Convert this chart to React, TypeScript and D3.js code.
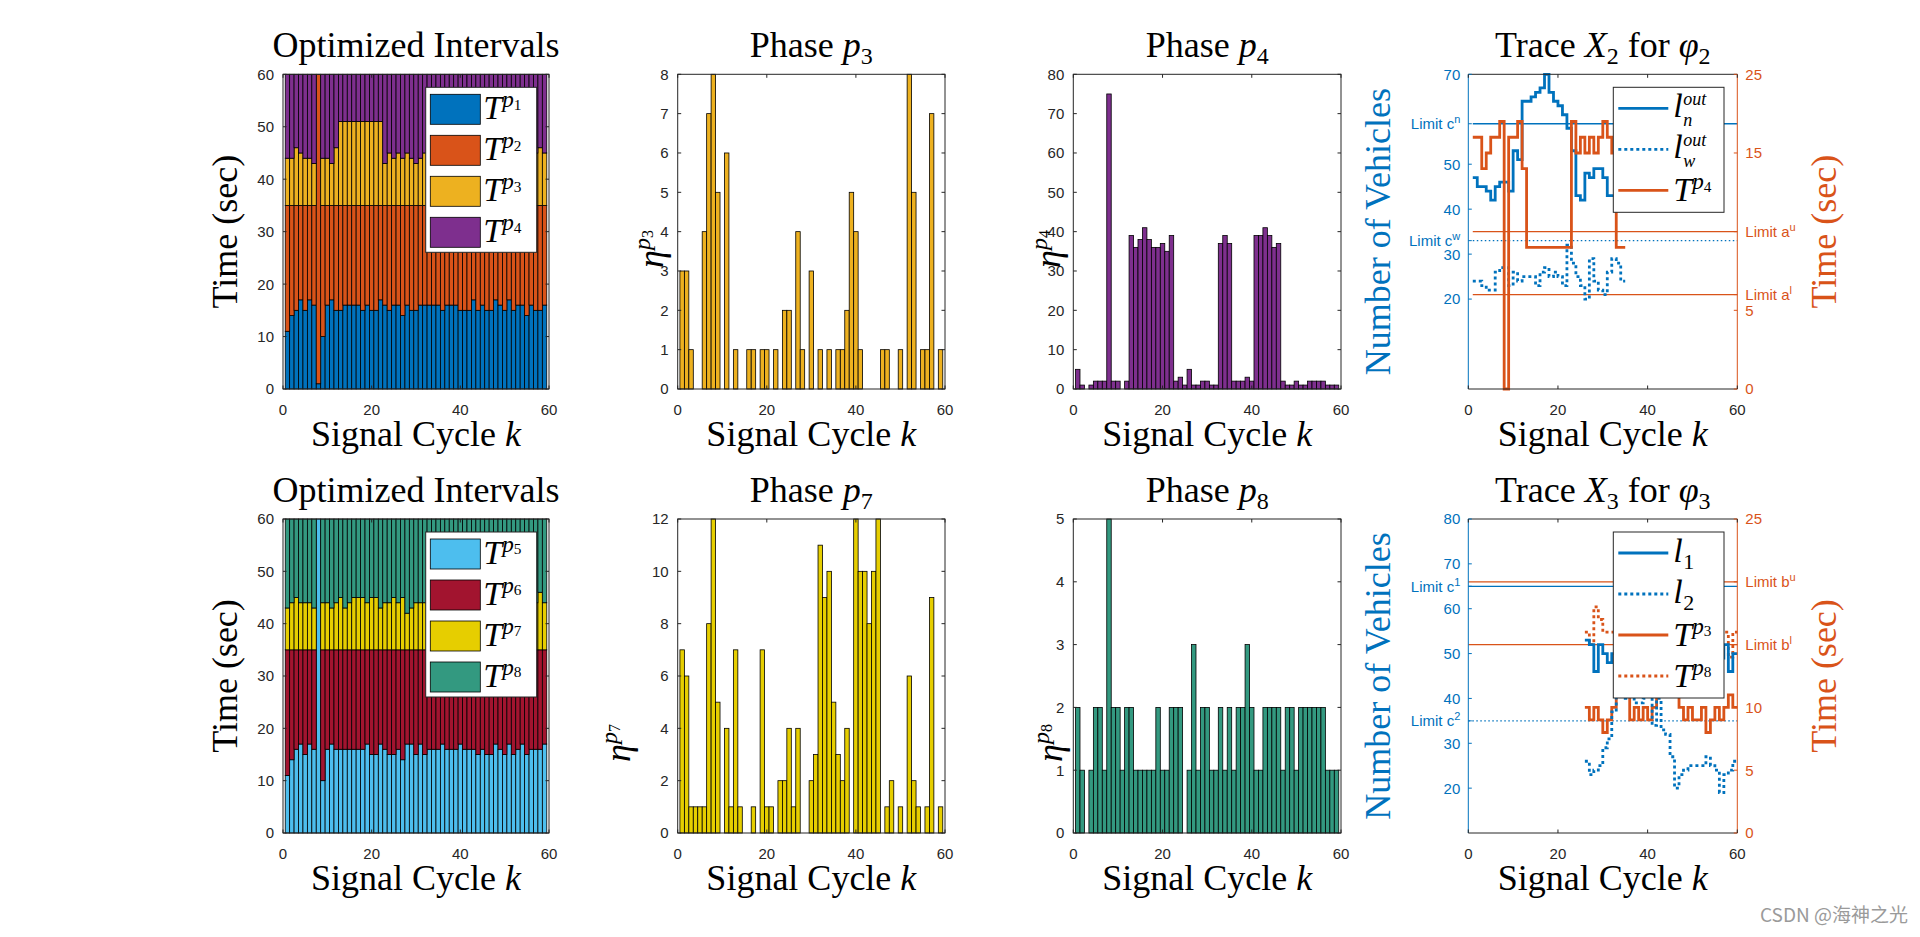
import React from 'react';
import * as d3 from 'd3';

// ---------------- DATA ----------------
const CYCLES = d3.range(1, 60); // signal cycles k = 1..59
const X_TICKS = [0, 20, 40, 60];

// Optimized intervals (sec), phases p1..p4
const T_P1 = [11,14,15,17,15,17,16,1,10,16, 17,15,15,16,16,16,16,15,16,15, 15,17,16,15,16,16,14,16,15,15, 16,16,16,16,16,15,16,16,16,15, 15,15,17,15,16,15,15,17,16,15, 17,15,16,16,14,16,15,15,16];
const T_P2 = [24,21,20,18,20,18,19,59,25,19, 18,20,20,19,19,19,19,20,19,20, 20,18,19,20,19,19,21,19,20,20, 19,19,19,19,19,20,19,19,19,20, 20,20,18,20,19,20,20,18,19,20, 18,20,19,19,21,19,20,20,19];
const T_P3 = [9,9,11,10,9,9,8,0,9,9, 8,11,16,16,16,16,16,16,16,16, 16,16,8,10,9,10,9,10,9,8, 9,10,16,16,16,9,10,9,10,9, 10,16,16,16,16,16,10,9,10,9, 9,10,8,9,10,9,10,11,10];
const T_P4 = [16,16,14,15,16,16,17,0,16,16, 17,14,9,9,9,9,9,9,9,9, 9,9,17,15,16,15,16,15,16,17, 16,15,9,9,9,16,15,16,15,16, 15,9,9,9,9,9,15,16,15,16, 16,15,17,16,15,16,15,14,15];

// Optimized intervals (sec), phases p5..p8
const T_P5 = [11,14,16,17,15,17,16,60,10,16, 17,16,16,16,16,16,16,16,17,15, 15,17,16,15,15,16,14,17,17,15, 17,15,16,16,16,17,16,16,16,17, 16,16,16,15,16,15,15,17,16,15, 17,15,16,17,15,16,16,16,17];
const T_P6 = [24,21,19,18,20,18,19,0,25,19, 18,19,19,19,19,19,19,19,18,20, 20,18,19,20,20,19,21,18,18,20, 18,20,19,19,19,18,19,19,19,18, 19,19,19,20,19,20,20,18,19,20, 18,20,19,18,20,19,19,19,18];
const T_P7 = [8,9,10,9,9,9,8,0,9,9, 8,9,10,8,9,10,10,10,9,10, 10,8,9,9,10,9,10,7,8,9, 9,9,10,9,9,10,8,9,10,9, 9,10,9,8,9,10,9,10,9,9, 8,10,9,10,9,9,9,11,9];
const T_P8 = [17,16,15,16,16,16,17,0,16,16, 17,16,15,17,16,15,15,15,16,15, 15,17,16,16,15,16,15,18,17,16, 16,16,15,16,16,15,17,16,15,16, 16,15,16,17,16,15,16,15,16,16, 17,15,16,15,16,16,16,14,16];

// Vehicle counts per phase
const N_P3 = [3,3,1,0,0,4,7,8,5,0, 6,0,1,0,0,1,1,0,1,1, 0,1,0,2,2,0,4,1,0,3, 0,1,0,1,0,1,1,2,5,4, 1,0,0,0,0,1,1,0,0,1, 0,8,5,0,1,1,7,0,1];
const N_P4 = [5,1,0,1,2,2,2,75,2,2, 0,2,39,36,38,41,38,36,36,37, 35,39,2,3,1,5,1,1,2,2, 1,1,37,39,37,2,2,2,3,2, 39,39,41,39,36,37,2,1,1,2, 1,1,2,2,2,2,1,1,1];
const N_P7 = [7,6,1,1,1,1,8,12,5,0, 4,1,7,1,0,0,1,0,7,1, 1,0,2,2,4,1,4,0,0,2, 3,11,9,10,5,3,2,4,0,12, 10,10,8,10,12,0,1,2,0,1, 0,6,2,1,0,1,9,0,1];
const N_P8 = [2,1,0,1,2,2,1,5,2,2, 1,2,2,1,1,1,1,1,2,1, 1,2,2,2,0,1,3,1,2,2, 1,1,2,1,2,1,2,2,3,2, 1,1,2,2,2,2,1,2,2,1, 2,2,2,2,2,2,1,1,1];

// Trace X2 (k = 1..34)
const X2_START = 1;
const LN_OUT = [47,45,45,44,42,45,46,46,44,53, 51,64,64,65,66,67,70,66,64,63, 61,58,53,43,42,48,47,49,49,47, 43,43,45,44];
const LW_OUT = [24,24,23,22,22,26,27,27,23,26, 24,25,25,25,23,26,27,25,26,25, 23,32,28,25,23,20,29,24,22,21, 26,29,28,24];
const X2_LEFT_TICKS = [20, 30, 33, 40, 50, 59, 70];
const X2_LEFT_LABELS = ['20', '30', 'Limit c^w', '40', '50', 'Limit c^n', '70'];
const X2_RIGHT_TICKS = [0, 5, 6, 10, 15, 20];
const X2_RIGHT_LABELS = ['0', '5', 'Limit a^l', 'Limit a^u', '15', '25'];

// Trace X3 (k = 26..59)
const X3_START = 26;
const L_1 = [53,52,46,52,50,48,50,51,53,52, 50,49,51,53,52,50,48,50,52,54, 53,51,49,50,52,51,49,50,52,51, 49,52,46,50];
const L_2 = [26,23,24,25,29,31,37,43,45,40, 41,39,39,40,41,34,40,33,32,27, 20,23,24,25,25,25,25,27,25,24, 19,23,24,26];
const X3_LEFT_TICKS = [20, 30, 35, 40, 50, 60, 65, 70, 80];
const X3_LEFT_LABELS = ['20', '30', 'Limit c^2', '40', '50', '60', 'Limit c^1', '70', '80'];
const X3_RIGHT_TICKS = [0, 5, 10, 15, 20, 25];
const X3_RIGHT_LABELS = ['0', '5', '10', 'Limit b^l', 'Limit b^u', '25'];

// ---------------- STYLE / LAYOUT ----------------
const SERIF = '"Liberation Serif", "Times New Roman", serif';
const SANS = '"Liberation Sans", Arial, sans-serif';
const INK = '#262626';
const BLUE = '#0072BD';
const ORANGE = '#D95319';
const C_P1 = '#0072BD', C_P2 = '#D95319', C_P3 = '#EDB120', C_P4 = '#7E2F8E';
const C_P5 = '#4DBEEE', C_P6 = '#A2142F', C_P7 = '#E6CE00', C_P8 = '#339980';

const COL_X = [283, 677.7, 1073.3, 1468.3];
const COL_W = [266, 267.3, 267.7, 269];
const ROW_Y = [74.3, 519];
const ROW_H = [314.7, 314];
const TICK = 3.5;
const BIG = 36;
const TICKFONT = 15;

function geom(col: number, row: number) {
  const x0 = COL_X[col], w = COL_W[col], y0 = ROW_Y[row], h = ROW_H[row];
  const xs = d3.scaleLinear().domain([0, 60]).range([x0, x0 + w]);
  return { x0, w, y0, h, xs };
}

function XAxisPart({ xs, y0, h }: any) {
  return (
    <g>
      {X_TICKS.map((t) => (
        <g key={t}>
          <line x1={xs(t)} x2={xs(t)} y1={y0 + h} y2={y0 + h - TICK} stroke={INK} />
          <line x1={xs(t)} x2={xs(t)} y1={y0} y2={y0 + TICK} stroke={INK} />
          <text x={xs(t)} y={y0 + h + 25.5} textAnchor="middle" fontFamily={SANS} fontSize={TICKFONT} fill={INK}>{t}</text>
        </g>
      ))}
      <text x={xs(30)} y={y0 + h + 57} textAnchor="middle" fontFamily={SERIF} fontSize={BIG} fill="#000">
        {'Signal Cycle '}<tspan fontStyle="italic">k</tspan>
      </text>
    </g>
  );
}

function BoxAxes({ x0, y0, w, h, xs, ys, yTicks }: any) {
  return (
    <g>
      {yTicks.map((t: number) => (
        <g key={t}>
          <line x1={x0} x2={x0 + TICK} y1={ys(t)} y2={ys(t)} stroke={INK} />
          <line x1={x0 + w} x2={x0 + w - TICK} y1={ys(t)} y2={ys(t)} stroke={INK} />
          <text x={x0 - 9} y={ys(t)} dy="0.36em" textAnchor="end" fontFamily={SANS} fontSize={TICKFONT} fill={INK}>{t}</text>
        </g>
      ))}
      <rect x={x0} y={y0} width={w} height={h} fill="none" stroke={INK} strokeWidth={1} />
      <XAxisPart xs={xs} y0={y0} h={h} />
    </g>
  );
}

function PhaseTitle({ cx, y, name, sub }: any) {
  return (
    <text x={cx} y={y} textAnchor="middle" fontFamily={SERIF} fontSize={BIG} fill="#000">
      {name + ' '}<tspan fontStyle="italic">p</tspan><tspan fontSize={24} dy={7}>{sub}</tspan>
    </text>
  );
}

function TSup({ x, y, sub, size = 34 }: any) {
  return (
    <text x={x} y={y} fontFamily={SERIF} fill="#000">
      <tspan fontStyle="italic" fontSize={size}>T</tspan>
      <tspan fontStyle="italic" fontSize={size * 0.68} dy={-size * 0.35}>p</tspan>
      <tspan fontSize={size * 0.45} dy={size * 0.07}>{sub}</tspan>
    </text>
  );
}

function StackPanel({ row, series, colors, subs }: any) {
  const { x0, w, y0, h, xs } = geom(0, row);
  const ys = d3.scaleLinear().domain([0, 60]).range([y0 + h, y0]);
  const keys = series.map((_: any, i: number) => 's' + i);
  const table = CYCLES.map((k, i) => {
    const r: any = { k };
    series.forEach((s: number[], j: number) => { r[keys[j]] = s[i]; });
    return r;
  });
  const stacked = d3.stack().keys(keys)(table as any);
  const bw = xs(1) - xs(0);
  const bx = x0 + 142.7, by = y0 + 13, bW = 111, bH = 165;
  return (
    <g>
      {stacked.map((layer: any, j: number) => (
        <g key={j} fill={colors[j]}>
          {layer.map((d: any, i: number) => d[1] > d[0] ? (
            <rect key={i} x={xs(d.data.k - 0.5)} y={ys(d[1])} width={bw} height={ys(d[0]) - ys(d[1])} stroke="#000" strokeWidth={0.8} />
          ) : null)}
        </g>
      ))}
      <BoxAxes x0={x0} y0={y0} w={w} h={h} xs={xs} ys={ys} yTicks={[0, 10, 20, 30, 40, 50, 60]} />
      <text x={xs(30)} y={y0 - 17.5} textAnchor="middle" fontFamily={SERIF} fontSize={BIG} fill="#000">Optimized Intervals</text>
      <text transform={`translate(${x0 - 46},${y0 + h / 2}) rotate(-90)`} textAnchor="middle" fontFamily={SERIF} fontSize={BIG} fill="#000">Time (sec)</text>
      <rect x={bx} y={by} width={bW} height={bH} fill="#fff" stroke={INK} strokeWidth={1} />
      {subs.map((s: string, i: number) => (
        <g key={i}>
          <rect x={bx + 4.6} y={by + 7 + 41 * i} width={50} height={30} fill={colors[i]} stroke="#000" strokeWidth={0.8} />
          <TSup x={bx + 57.6} y={by + 32 + 41 * i} sub={s} />
        </g>
      ))}
    </g>
  );
}

function BarPanel({ col, row, values, color, yMax, yTicks, sub, ylabY, ylabX }: any) {
  const { x0, w, y0, h, xs } = geom(col, row);
  const ys = d3.scaleLinear().domain([0, yMax]).range([y0 + h, y0]);
  const bw = xs(1) - xs(0);
  return (
    <g>
      {values.map((v: number, i: number) => v > 0 ? (
        <rect key={i} x={xs(CYCLES[i] - 0.5)} y={ys(v)} width={bw} height={ys(0) - ys(v)} fill={color} stroke="#000" strokeWidth={0.8} />
      ) : null)}
      <BoxAxes x0={x0} y0={y0} w={w} h={h} xs={xs} ys={ys} yTicks={yTicks} />
      <PhaseTitle cx={xs(30)} y={y0 - 17.5} name="Phase" sub={sub} />
      <text transform={`translate(${ylabX},${ylabY}) rotate(-90)`} textAnchor="middle" fontFamily={SERIF} fill="#000">
        <tspan fontStyle="italic" fontSize={BIG}>η</tspan>
        <tspan fontStyle="italic" fontSize={24} dy={-13}>p</tspan>
        <tspan fontSize={16} dy={3}>{sub}</tspan>
      </text>
    </g>
  );
}

function TickLabel({ x, y, anchor, color, label }: any) {
  const [main, sup] = String(label).split('^');
  return (
    <text x={x} y={y} dy="0.36em" textAnchor={anchor} fontFamily={SANS} fontSize={TICKFONT} fill={color}>
      {main}{sup !== undefined ? <tspan fontSize={11} dy={-6}>{sup}</tspan> : null}
    </text>
  );
}

function LSym({ x, y, sub, sup }: any) {
  return (
    <g fontFamily={SERIF} fill="#000">
      <text x={x} y={y} fontStyle="italic" fontSize={34}>l</text>
      {sup ? <text x={x + 10} y={y - 12.5} fontStyle="italic" fontSize={18}>{sup}</text> : null}
      <text x={x + 10} y={y + (sup ? 8.5 : 7)} fontStyle={/\d/.test(sub) ? 'normal' : 'italic'} fontSize={sup ? 18 : 22}>{sub}</text>
    </g>
  );
}

function TracePanel({ row, lDomain, rDomain, lTicks, lLabels, rTicks, rLabels, limits, limitFrom, lines, legend, titleSub }: any) {
  const { x0, w, y0, h, xs } = geom(3, row);
  const yL = d3.scaleLinear().domain(lDomain).range([y0 + h, y0]);
  const yR = d3.scaleLinear().domain(rDomain).range([y0 + h, y0]);
  const stairs = (vals: number[], start: number, ys: any) => {
    const pts: [number, number][] = vals.map((v, i) => [start + i, v]);
    pts.push([start + vals.length, vals[vals.length - 1]]);
    return d3.line<[number, number]>().x((d) => xs(d[0])).y((d) => ys(d[1])).curve(d3.curveStepAfter)(pts) as string;
  };
  const bx = x0 + 145, by = y0 + 13, bW = 110.7;
  const bH = legend.length * 41 + 2;
  return (
    <g>
      {limits.map((l: any, i: number) => {
        const ys = l.axis === 'L' ? yL : yR;
        return <line key={i} x1={xs(limitFrom)} x2={xs(60)} y1={ys(l.v)} y2={ys(l.v)} stroke={l.color} strokeWidth={1.3} strokeDasharray={l.dash || undefined} />;
      })}
      {lines.map((l: any, i: number) => (
        <path key={i} d={stairs(l.values, l.start, l.axis === 'L' ? yL : yR)} fill="none" stroke={l.color} strokeWidth={2.8} strokeDasharray={l.dash || undefined} />
      ))}
      {/* frame */}
      <line x1={x0} x2={x0 + w} y1={y0} y2={y0} stroke={INK} />
      <line x1={x0} x2={x0 + w} y1={y0 + h} y2={y0 + h} stroke={INK} />
      <line x1={x0} x2={x0} y1={y0} y2={y0 + h} stroke={BLUE} />
      <line x1={x0 + w} x2={x0 + w} y1={y0} y2={y0 + h} stroke={ORANGE} />
      {lTicks.map((t: number, i: number) => (
        <g key={'l' + i}>
          <line x1={x0} x2={x0 + TICK} y1={yL(t)} y2={yL(t)} stroke={BLUE} />
          <TickLabel x={x0 - 8} y={yL(t)} anchor="end" color={BLUE} label={lLabels[i]} />
        </g>
      ))}
      {rTicks.map((t: number, i: number) => (
        <g key={'r' + i}>
          <line x1={x0 + w} x2={x0 + w - TICK} y1={yR(t)} y2={yR(t)} stroke={ORANGE} />
          <TickLabel x={x0 + w + 8} y={yR(t)} anchor="start" color={ORANGE} label={rLabels[i]} />
        </g>
      ))}
      <XAxisPart xs={xs} y0={y0} h={h} />
      <text x={xs(30)} y={y0 - 17.5} textAnchor="middle" fontFamily={SERIF} fontSize={BIG} fill="#000">
        {'Trace '}<tspan fontStyle="italic">X</tspan><tspan fontSize={24} dy={7}>{titleSub}</tspan>
        <tspan dy={-7}>{' for '}</tspan><tspan fontStyle="italic">φ</tspan><tspan fontSize={24} dy={7}>{titleSub}</tspan>
      </text>
      <text transform={`translate(${x0 - 78},${y0 + h / 2}) rotate(-90)`} textAnchor="middle" fontFamily={SERIF} fontSize={BIG} fill={BLUE}>Number of Vehicles</text>
      <text transform={`translate(${x0 + w + 99},${y0 + h / 2}) rotate(-90)`} textAnchor="middle" fontFamily={SERIF} fontSize={BIG} fill={ORANGE}>Time (sec)</text>
      {/* legend */}
      <rect x={bx} y={by} width={bW} height={bH} fill="#fff" stroke={INK} strokeWidth={1} />
      {legend.map((e: any, i: number) => {
        const ly = by + 21 + 41 * i;
        return (
          <g key={i}>
            <line x1={bx + 5} x2={bx + 55} y1={ly} y2={ly} stroke={e.color} strokeWidth={2.8} strokeDasharray={e.dash || undefined} />
            {e.kind === 'T' ? <TSup x={bx + 60} y={ly + 11} sub={e.sub} /> : <LSym x={bx + 60} y={ly + 9} sub={e.sub} sup={e.sup} />}
          </g>
        );
      })}
    </g>
  );
}

export default function App() {
  const DOT = '3,3';
  return (
    <svg width={1920} height={937} viewBox="0 0 1920 937" style={{ position: 'fixed', left: 0, top: 0, background: '#fff' }}>
      <rect x={0} y={0} width={1920} height={937} fill="#fff" />
      <StackPanel row={0} series={[T_P1, T_P2, T_P3, T_P4]} colors={[C_P1, C_P2, C_P3, C_P4]} subs={['1', '2', '3', '4']} />
      <StackPanel row={1} series={[T_P5, T_P6, T_P7, T_P8]} colors={[C_P5, C_P6, C_P7, C_P8]} subs={['5', '6', '7', '8']} />

      <BarPanel col={1} row={0} values={N_P3} color={C_P3} yMax={8} yTicks={[0, 1, 2, 3, 4, 5, 6, 7, 8]} sub="3" ylabX={663} ylabY={249} />
      <BarPanel col={2} row={0} values={N_P4} color={C_P4} yMax={80} yTicks={[0, 10, 20, 30, 40, 50, 60, 70, 80]} sub="4" ylabX={1060} ylabY={249} />
      <BarPanel col={1} row={1} values={N_P7} color={C_P7} yMax={12} yTicks={[0, 2, 4, 6, 8, 10, 12]} sub="7" ylabX={630} ylabY={743} />
      <BarPanel col={2} row={1} values={N_P8} color={C_P8} yMax={5} yTicks={[0, 1, 2, 3, 4, 5]} sub="8" ylabX={1062} ylabY={743} />

      <TracePanel
        row={0} lDomain={[0, 70]} rDomain={[0, 20]}
        lTicks={X2_LEFT_TICKS} lLabels={X2_LEFT_LABELS} rTicks={X2_RIGHT_TICKS} rLabels={X2_RIGHT_LABELS}
        limitFrom={1}
        limits={[
          { axis: 'L', v: X2_LEFT_TICKS[5], color: BLUE },
          { axis: 'L', v: X2_LEFT_TICKS[2], color: BLUE, dash: '1.5,2.5' },
          { axis: 'R', v: X2_RIGHT_TICKS[3], color: ORANGE },
          { axis: 'R', v: X2_RIGHT_TICKS[2], color: ORANGE },
        ]}
        lines={[
          { values: LN_OUT, start: X2_START, axis: 'L', color: BLUE },
          { values: LW_OUT, start: X2_START, axis: 'L', color: BLUE, dash: DOT },
          { values: T_P4.slice(X2_START - 1, X2_START - 1 + LN_OUT.length), start: X2_START, axis: 'R', color: ORANGE },
        ]}
        legend={[
          { kind: 'l', sub: 'n', sup: 'out', color: BLUE },
          { kind: 'l', sub: 'w', sup: 'out', color: BLUE, dash: DOT },
          { kind: 'T', sub: '4', color: ORANGE },
        ]}
        titleSub="2"
      />
      <TracePanel
        row={1} lDomain={[10, 80]} rDomain={[0, 25]}
        lTicks={X3_LEFT_TICKS} lLabels={X3_LEFT_LABELS} rTicks={X3_RIGHT_TICKS} rLabels={X3_RIGHT_LABELS}
        limitFrom={0}
        limits={[
          { axis: 'L', v: X3_LEFT_TICKS[6], color: BLUE },
          { axis: 'L', v: X3_LEFT_TICKS[2], color: BLUE, dash: '1.5,2.5' },
          { axis: 'R', v: X3_RIGHT_TICKS[4], color: ORANGE },
          { axis: 'R', v: X3_RIGHT_TICKS[3], color: ORANGE },
        ]}
        lines={[
          { values: T_P8.slice(X3_START - 1), start: X3_START, axis: 'R', color: ORANGE, dash: DOT },
          { values: T_P3.slice(X3_START - 1), start: X3_START, axis: 'R', color: ORANGE },
          { values: L_1, start: X3_START, axis: 'L', color: BLUE },
          { values: L_2, start: X3_START, axis: 'L', color: BLUE, dash: DOT },
        ]}
        legend={[
          { kind: 'l', sub: '1', color: BLUE },
          { kind: 'l', sub: '2', color: BLUE, dash: DOT },
          { kind: 'T', sub: '3', color: ORANGE },
          { kind: 'T', sub: '8', color: ORANGE, dash: DOT },
        ]}
        titleSub="3"
      />
      <text x={1908} y={922} textAnchor="end" fontFamily={'"Noto Sans CJK SC", sans-serif'} fontSize={19} fill="#9a9a9a">CSDN @海神之光</text>
    </svg>
  );
}
